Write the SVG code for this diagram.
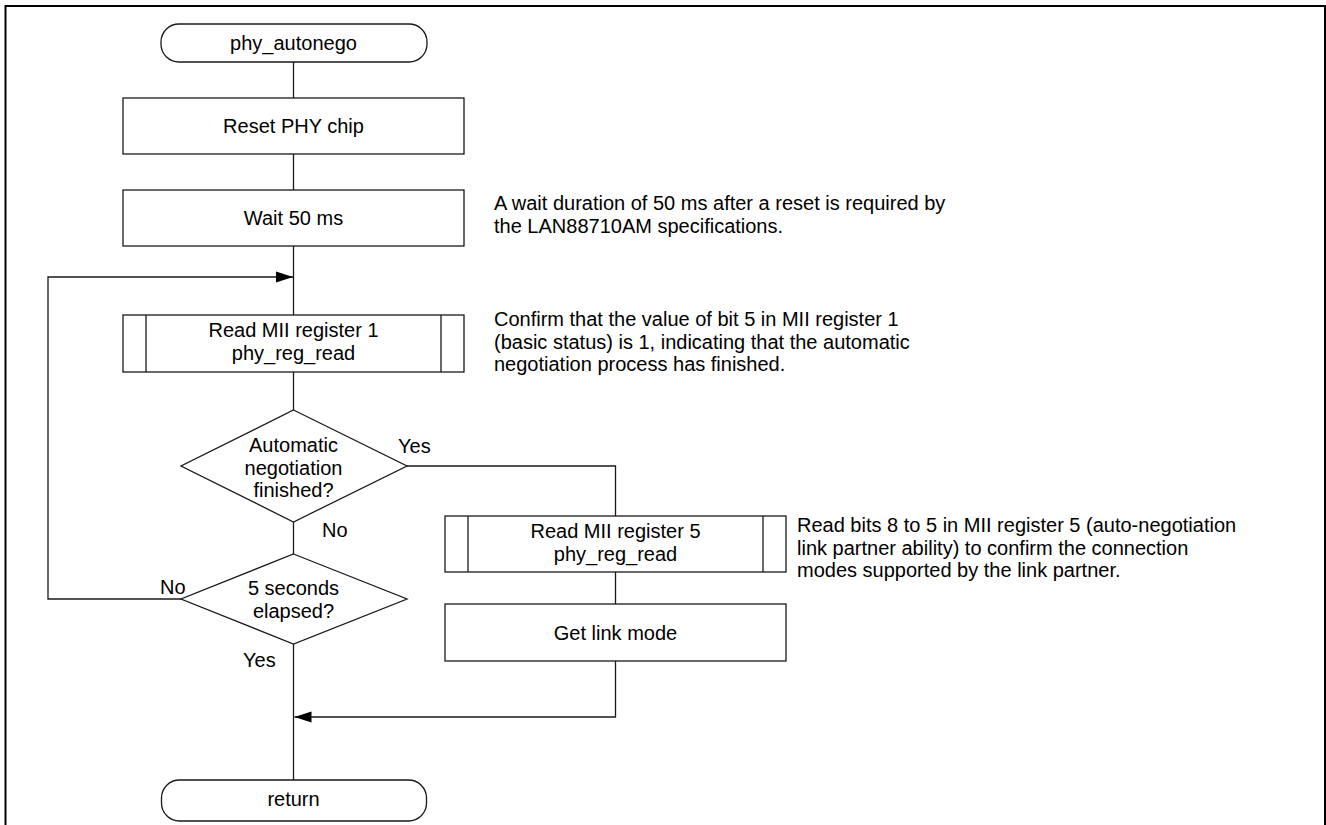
<svg xmlns="http://www.w3.org/2000/svg" width="1326" height="825" viewBox="0 0 1326 825">
<style>
.t{font-family:"Liberation Sans",Arial,sans-serif;font-size:20px;fill:#000}
.c{text-anchor:middle}
.s{fill:#fff;stroke:#1a1a1a;stroke-width:1.3}
.l{fill:none;stroke:#1a1a1a;stroke-width:1.3}
</style>
<defs>
<marker id="ah" markerUnits="userSpaceOnUse" markerWidth="18" markerHeight="12" refX="17" refY="6" orient="auto">
<path d="M0,0.5 L17,6 L0,11.5 Z" fill="#000"/>
</marker>
</defs>
<rect width="1326" height="825" fill="#fff"/>
<path d="M5.5,830 V6 H1325 V830" fill="none" stroke="#000" stroke-width="2"/>

<g id="connectors">
<path class="l" d="M293.5,62 V98"/>
<path class="l" d="M293.5,154 V190"/>
<path class="l" d="M293.5,246 V315"/>
<path class="l" d="M293.5,372 V410"/>
<path class="l" d="M293.5,522 V554"/>
<path class="l" d="M293.5,644 V780"/>
<path class="l" d="M181,599 H48 V277 H293" marker-end="url(#ah)"/>
<path class="l" d="M407,466 H615.5 V516"/>
<path class="l" d="M615.5,572 V604"/>
<path class="l" d="M615.5,661 V717 H294.5" marker-end="url(#ah)"/>
<text class="t" x="398" y="453">Yes</text>
<text class="t" x="322" y="537">No</text>
<text class="t" x="160" y="594">No</text>
<text class="t" x="243" y="667">Yes</text>
</g>

<g id="start">
<rect class="s" x="161" y="24" width="266" height="38" rx="18" ry="18"/>
<text class="t c" x="293.5" y="49.5">phy_autonego</text>
</g>

<g id="reset">
<rect class="s" x="123" y="98" width="341" height="56"/>
<text class="t c" x="293.5" y="133">Reset PHY chip</text>
</g>

<g id="wait">
<rect class="s" x="123" y="190" width="341" height="56"/>
<text class="t c" x="293.5" y="225">Wait 50 ms</text>
</g>

<g id="note-wait">
<text class="t" x="494" y="210">A wait duration of 50 ms after a reset is required by</text>
<text class="t" x="494" y="232.5">the LAN88710AM specifications.</text>
</g>

<g id="read1">
<rect class="s" x="123" y="315" width="341" height="57"/>
<path class="l" d="M146,315 V372 M441,315 V372"/>
<text class="t c" x="293.5" y="337">Read MII register 1</text>
<text class="t c" x="293.5" y="359.5">phy_reg_read</text>
</g>

<g id="note-read1">
<text class="t" x="494" y="326">Confirm that the value of bit 5 in MII register 1</text>
<text class="t" x="494" y="348.5">(basic status) is 1, indicating that the automatic</text>
<text class="t" x="494" y="371">negotiation process has finished.</text>
</g>

<g id="decision-auto">
<polygon class="s" points="293.5,410 407,466 293.5,522 181,466"/>
<text class="t c" x="293.5" y="452">Automatic</text>
<text class="t c" x="293.5" y="474.5">negotiation</text>
<text class="t c" x="293.5" y="497">finished?</text>
</g>

<g id="decision-5s">
<polygon class="s" points="293.5,554 407,599 293.5,644 181,599"/>
<text class="t c" x="293.5" y="595">5 seconds</text>
<text class="t c" x="293.5" y="617.5">elapsed?</text>
</g>

<g id="read5">
<rect class="s" x="445" y="516" width="341" height="56"/>
<path class="l" d="M468,516 V572 M763,516 V572"/>
<text class="t c" x="615.5" y="538">Read MII register 5</text>
<text class="t c" x="615.5" y="560.5">phy_reg_read</text>
</g>

<g id="note-read5">
<text class="t" x="797" y="532">Read bits 8 to 5 in MII register 5 (auto-negotiation</text>
<text class="t" x="797" y="554.5">link partner ability) to confirm the connection</text>
<text class="t" x="797" y="577">modes supported by the link partner.</text>
</g>

<g id="getlink">
<rect class="s" x="445" y="604" width="341" height="57"/>
<text class="t c" x="615.5" y="639.5">Get link mode</text>
</g>

<g id="return">
<rect class="s" x="161.5" y="780" width="265" height="41" rx="18" ry="18"/>
<text class="t c" x="293.5" y="806">return</text>
</g>
</svg>
